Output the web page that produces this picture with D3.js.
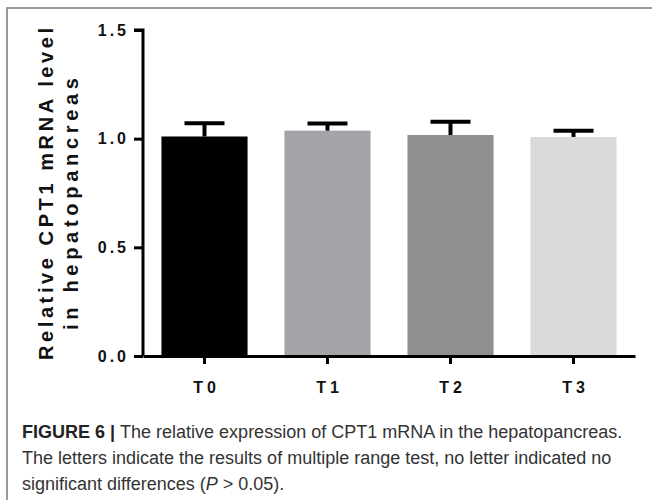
<!DOCTYPE html>
<html>
<head>
<meta charset="utf-8">
<script src="https://cdn.jsdelivr.net/npm/d3@7"></script>
<style>
  body { margin: 0; background: #fff; }
  svg text { font-family: "Liberation Sans", Arial, sans-serif; }
  .axis path, .axis line { stroke: #000; stroke-width: 3px; }
  .axis text { font-weight: bold; font-size: 16px; letter-spacing: 3px; fill: #111; }
  .caption { font-size: 18px; fill: #333; }
</style>
</head>
<body>
<svg id="chart" width="652" height="503"></svg>
<script>
// Values
var groups = ["T0", "T1", "T2", "T3"];
var means = [1.01, 1.037, 1.017, 1.008];
var upper = [1.071, 1.07, 1.078, 1.037];
var colors = ["#000000", "#a4a3a7", "#8f8f8f", "#dadada"];
var yTicks = [0, 0.5, 1.0, 1.5];

var svg = d3.select("#chart");

// frame around the figure (top and left edges visible)
svg.append("path")
    .attr("d", "M7,500 V8 H652")
    .attr("fill", "none")
    .attr("stroke", "#7a7a7a")
    .attr("stroke-width", 1.5);

var margin = {top: 30, left: 143},
    width = 492,
    height = 326,
    g = svg.append("g").attr("transform", "translate(" + margin.left + "," + margin.top + ")");

var x = d3.scaleBand()
    .domain(groups)
    .range([0, width])
    .paddingInner(0.3)
    .paddingOuter(0.15);

var y = d3.scaleLinear()
    .domain([0, 1.5])
    .range([height, 0]);

// bars
g.selectAll(".bar")
    .data(groups)
  .enter().append("rect")
    .attr("class", "bar")
    .attr("x", function(d) { return x(d); })
    .attr("width", x.bandwidth())
    .attr("y", function(d, i) { return y(means[i]); })
    .attr("height", function(d, i) { return height - y(means[i]); })
    .attr("fill", function(d, i) { return colors[i]; });

// error bars (upper only)
var cap = 20;
var err = g.selectAll(".err")
    .data(groups)
  .enter().append("g")
    .attr("class", "err")
    .attr("transform", function(d) { return "translate(" + (x(d) + x.bandwidth() / 2) + ",0)"; });

err.append("line")
    .attr("y1", function(d, i) { return y(means[i]); })
    .attr("y2", function(d, i) { return y(upper[i]); })
    .attr("stroke", "#000")
    .attr("stroke-width", 4);

err.append("line")
    .attr("x1", -cap).attr("x2", cap)
    .attr("y1", function(d, i) { return y(upper[i]); })
    .attr("y2", function(d, i) { return y(upper[i]); })
    .attr("stroke", "#000")
    .attr("stroke-width", 4);

// y axis
g.append("g")
    .attr("class", "axis axis--y")
    .call(d3.axisLeft(y)
        .tickValues(yTicks)
        .tickFormat(d3.format(".1f"))
        .tickSize(9)
        .tickPadding(5))
  .select(".domain")
    .attr("d", "M-9," + y(1.5) + "H0V" + height);

// x axis
g.append("g")
    .attr("class", "axis axis--x")
    .attr("transform", "translate(0," + height + ")")
    .call(d3.axisBottom(x)
        .tickSize(8)
        .tickSizeOuter(0)
        .tickPadding(18))
  .selectAll("text")
    .attr("dx", "2px")
    .style("letter-spacing", "4px");

// y axis title, two lines
svg.append("text")
    .attr("transform", "translate(53,194) rotate(-90)")
    .attr("text-anchor", "middle")
    .attr("textLength", 332)
    .attr("lengthAdjust", "spacing")
    .style("font-weight", "bold")
    .style("font-size", "20px")
    .attr("fill", "#111")
    .text("Relative CPT1 mRNA level");

svg.append("text")
    .attr("transform", "translate(78,204) rotate(-90)")
    .attr("text-anchor", "middle")
    .attr("textLength", 252)
    .attr("lengthAdjust", "spacing")
    .style("font-weight", "bold")
    .style("font-size", "20px")
    .attr("fill", "#111")
    .text("in hepatopancreas");

// caption
var cap1 = svg.append("text")
    .attr("class", "caption")
    .attr("x", 22).attr("y", 438);
cap1.append("tspan").style("font-weight", "bold").attr("fill", "#222").text("FIGURE 6 | ");
cap1.append("tspan").text("The relative expression of CPT1 mRNA in the hepatopancreas.");

svg.append("text")
    .attr("class", "caption")
    .attr("x", 22).attr("y", 464)
    .text("The letters indicate the results of multiple range test, no letter indicated no");

var cap3 = svg.append("text")
    .attr("class", "caption")
    .attr("x", 22).attr("y", 490);
cap3.append("tspan").text("significant differences (");
cap3.append("tspan").style("font-style", "italic").text("P");
cap3.append("tspan").text(" > 0.05).");
</script>
</body>
</html>
